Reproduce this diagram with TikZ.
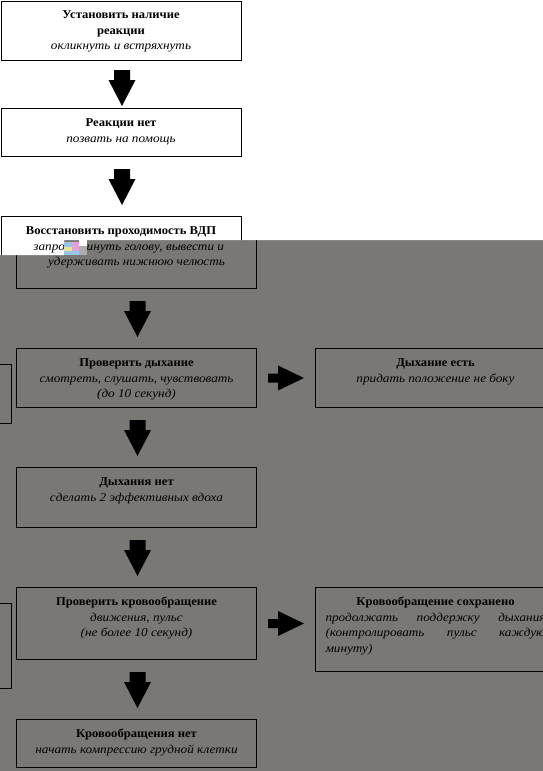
\documentclass[tikz,border=0pt]{standalone}
\usepackage{fontspec}
\setmainfont{Liberation Serif}[BoldFeatures={FakeStretch=1.05},ItalicFeatures={FakeStretch=1.1}]
\definecolor{bggray}{RGB}{122,120,116}
\definecolor{gpink}{RGB}{230,160,220}
\definecolor{gyel}{RGB}{230,230,150}
\definecolor{gblue}{RGB}{150,200,230}
\newcommand\bxc[2]{\begin{minipage}[t][#1][t]{240pt}\centering\fontsize{12}{15.5}\selectfont\rule{0pt}{18pt}#2\end{minipage}}
\newcommand\varrow[2]{\fill (#1.south) ++(-7,#2) -- ++(16,0) -- ++(0,10) -- ++(5.5,0) -- ++(-13.5,26) -- ++(-13.5,-26) -- ++(5.5,0) -- cycle;}
\newcommand\harrow[1]{\fill (#1.east) ++(11,-4.5) -- ++(10,0) -- ++(0,-8) -- ++(26,12.5) -- ++(-26,12.5) -- ++(0,-8) -- ++(-10,0) -- cycle;}
\tikzset{box/.style={draw, line width=1pt, inner sep=0pt, anchor=north west}}
\begin{document}
\begin{tikzpicture}[x=1pt,y=-1pt]
\useasboundingbox (0,0) rectangle (543,771);
\fill[bggray] (0,0) rectangle (543,771);
% lower (gray) layer
\begin{scope}
\clip (0,0) rectangle (543,771);
\node[box] (g3) at (16,216) {\bxc{72pt}{\textbf{Восстановить проходимость ВДП}\\\textit{запрокинуть голову, вывести и\\удерживать нижнюю челюсть}}};
\node[box] (g4) at (16,348) {\bxc{59pt}{\textbf{Проверить дыхание}\\\textit{смотреть, слушать, чувствовать\\(до 10 секунд)}}};
\node[box] (g5) at (315,348) {\bxc{59pt}{\textbf{Дыхание есть}\\\textit{придать положение не боку}}};
\node[box] (gl1) at (-229,364) {\bxc{59pt}{}};
\node[box] (g6) at (16,467) {\bxc{60pt}{\textbf{Дыхания нет}\\\textit{сделать 2 эффективных вдоха}}};
\node[box] (g7) at (16,587) {\bxc{72pt}{\textbf{Проверить кровообращение}\\\textit{движения, пульс\\(не более 10 секунд)}}};
\node[box] (g8) at (315,587) {\bxc{84pt}{\textbf{Кровообращение сохранено}\\\textit{\makebox[220pt][s]{продолжать поддержку дыхания}\\\makebox[220pt][s]{(контролировать пульс каждую}\\\makebox[220pt][l]{минуту)}}}};
\node[box] (gl2) at (-229,603) {\bxc{85pt}{}};
\node[box] (g9) at (16,719) {\bxc{48pt}{\textbf{Кровообращения нет}\\\textit{начать компрессию грудной клетки}}};
\varrow{g3}{12}
\varrow{g4}{12}
\varrow{g6}{12}
\varrow{g7}{12}
\harrow{g4}
\harrow{g7}
\end{scope}
% upper (white) layer
\begin{scope}
\clip (0,0) -- (543,0) -- (543,240) -- (64,240) -- (64,255) -- (0,255) -- cycle;
\fill[white] (0,0) rectangle (543,771);
\node[box] (w1) at (0.5,0.5) {\bxc{59.5pt}{\textbf{Установить наличие\\реакции}\\\textit{окликнуть и встряхнуть}}};
\node[box] (w2) at (0.5,108) {\bxc{48pt}{\textbf{Реакции нет}\\\textit{позвать на помощь}}};
\node[box] (w3) at (0.5,216) {\bxc{72pt}{\textbf{Восстановить проходимость ВДП}\\\textit{запрокинуть голову, вывести и\\удерживать нижнюю челюсть}}};
\varrow{w1}{9}
\varrow{w2}{12}
\end{scope}
% image glitch patch
\fill[gblue] (64,242) rectangle (72,247);
\fill[gpink] (72,242) rectangle (79,247);
\fill[gyel] (64,247) rectangle (72,251);
\fill[gpink] (72,247) rectangle (79,251);
\fill[gblue] (64,251) rectangle (79,255);
\fill[white] (79,240) rectangle (87,246);
\fill[bggray!60] (79,246) rectangle (87,255);
\end{tikzpicture}
\end{document}
